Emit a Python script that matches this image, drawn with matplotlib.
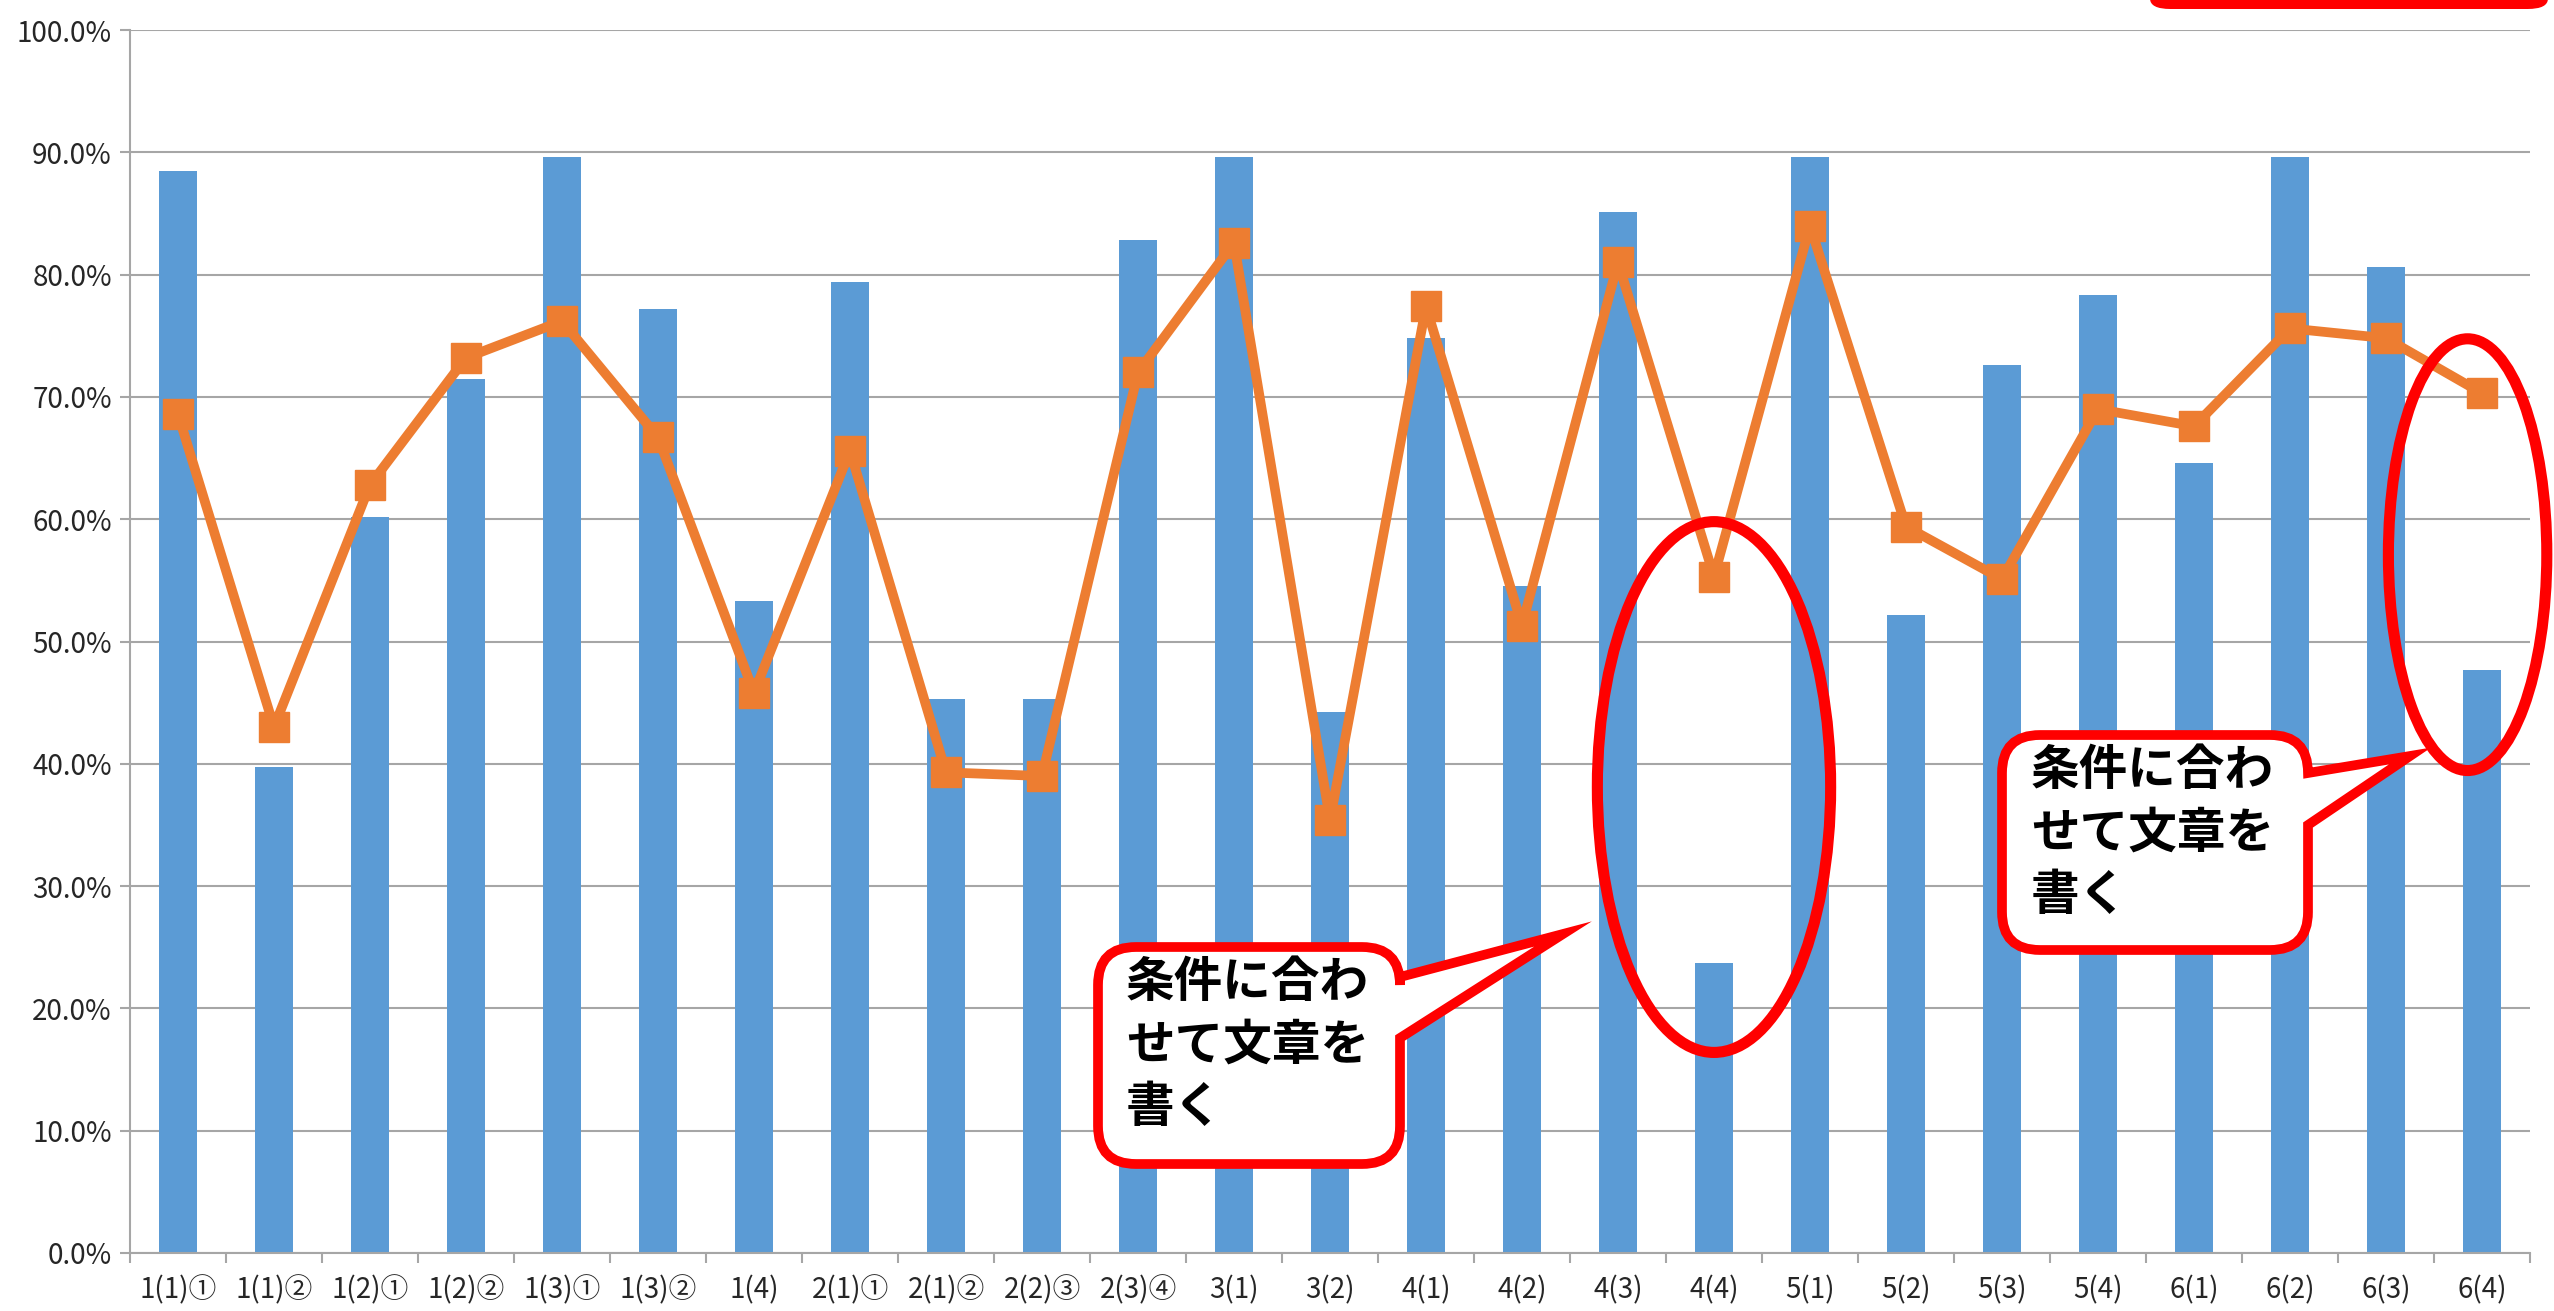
import matplotlib
matplotlib.use('Agg')
import matplotlib.pyplot as plt
import numpy as np
from matplotlib.patches import Ellipse, FancyBboxPatch, PathPatch
from matplotlib.path import Path
from matplotlib.ticker import PercentFormatter, FixedLocator

plt.rcParams['font.family'] = ['Noto Sans CJK JP', 'DejaVu Sans']

# 設問ラベル
labels = ['1(1)①', '1(1)②', '1(2)①', '1(2)②', '1(3)①', '1(3)②', '1(4)',
          '2(1)①', '2(1)②', '2(2)③', '2(3)④', '3(1)', '3(2)',
          '4(1)', '4(2)', '4(3)', '4(4)', '5(1)', '5(2)', '5(3)', '5(4)',
          '6(1)', '6(2)', '6(3)', '6(4)']

# 棒グラフ(正答率)
bar_vals = [0.885, 0.397, 0.602, 0.715, 0.896, 0.772, 0.533,
            0.794, 0.453, 0.453, 0.828, 0.896, 0.442,
            0.748, 0.545, 0.851, 0.237, 0.896, 0.522, 0.726, 0.783,
            0.646, 0.896, 0.806, 0.477]

# 折れ線(比較値)
line_vals = [0.686, 0.430, 0.628, 0.732, 0.762, 0.667, 0.458,
             0.656, 0.393, 0.390, 0.720, 0.826, 0.354,
             0.774, 0.513, 0.810, 0.553, 0.840, 0.594, 0.551, 0.690,
             0.676, 0.756, 0.748, 0.703]

callout_text = '条件に合わ\nせて文章を\n書く'

W, H = 2554, 1311
fig = plt.figure(figsize=(W / 100, H / 100), dpi=100)
ax = fig.add_axes([130 / W, 1 - 1253 / H, 2400 / W, 1223 / H])

x = np.arange(len(labels))
ax.bar(x, bar_vals, width=0.4, color='#5B9BD5', zorder=2)
ax.plot(x, line_vals, color='#ED7D31', lw=7, marker='s', ms=22, zorder=3)

ax.set_xlim(-0.5, len(labels) - 0.5)
ax.set_ylim(0, 1)
ax.set_yticks(np.arange(0, 1.01, 0.1))
ax.yaxis.set_major_formatter(PercentFormatter(1.0, decimals=1))
ax.grid(axis='y', color='#a6a6a6', lw=1.5, zorder=0)
ax.set_axisbelow(True)

ax.set_xticks(x)
ax.set_xticklabels(labels)
ax.xaxis.set_minor_locator(FixedLocator(np.arange(-0.5, len(labels), 1)))
ax.tick_params(axis='x', which='major', length=0, pad=16, labelsize=20, labelcolor='#262626')
ax.tick_params(axis='x', which='minor', length=7, width=1.5, color='#a6a6a6')
ax.tick_params(axis='y', length=7, width=1.5, color='#a6a6a6', labelsize=20, labelcolor='#262626', pad=6)

for s in ['top', 'right']:
    ax.spines[s].set_visible(False)
for s in ['left', 'bottom']:
    ax.spines[s].set_color('#a6a6a6')
    ax.spines[s].set_linewidth(1.5)

# 赤い楕円
ax.add_patch(Ellipse((16, 0.381), 2.43, 0.434, fill=False, ec='#FF0000', lw=8, zorder=4, clip_on=False))
ax.add_patch(Ellipse((23.85, 0.571), 1.65, 0.353, fill=False, ec='#FF0000', lw=8, zorder=4, clip_on=False))


def fx(px):
    return px / W


def fy(py):
    return 1 - py / H


def callout(x0, y0, x1, y1, r, tip, b0, b1):
    pts = [(x0 + r, y0), (x1 - r, y0), (x1, y0), (x1, y0 + r),
           (x1, b0), tip, (x1, b1), (x1, y1 - r),
           (x1, y1), (x1 - r, y1), (x0 + r, y1),
           (x0, y1), (x0, y1 - r), (x0, y0 + r),
           (x0, y0), (x0 + r, y0), (x0 + r, y0)]
    codes = [Path.MOVETO, Path.LINETO, Path.CURVE3, Path.CURVE3,
             Path.LINETO, Path.LINETO, Path.LINETO, Path.LINETO,
             Path.CURVE3, Path.CURVE3, Path.LINETO,
             Path.CURVE3, Path.CURVE3, Path.LINETO,
             Path.CURVE3, Path.CURVE3, Path.CLOSEPOLY]
    verts = [(fx(a), fy(b)) for a, b in pts]
    p = PathPatch(Path(verts, codes), transform=fig.transFigure, fc='white',
                  ec='#FF0000', lw=7, joinstyle='miter', zorder=5)
    fig.add_artist(p)


callout(1098, 947, 1400, 1164, 38, (1563, 934), 977, 1038)
fig.text(fx(1126), fy(958), callout_text, fontsize=35, fontweight='bold',
         va='top', ha='left', linespacing=1.35, zorder=6)

callout(2002, 735, 2308, 950, 38, (2410, 756), 773, 825)
fig.text(fx(2031), fy(746), callout_text, fontsize=35, fontweight='bold',
         va='top', ha='left', linespacing=1.35, zorder=6)

# 上部の赤い枠(はみ出し部分)
top_box = FancyBboxPatch((fx(2150), fy(9)), fx(2548) - fx(2150), 0.05,
                         boxstyle='round,pad=0,rounding_size=0.008',
                         transform=fig.transFigure, fc='#FF0000', ec='none', zorder=5)
fig.add_artist(top_box)

fig.savefig('out.png', dpi=100)
